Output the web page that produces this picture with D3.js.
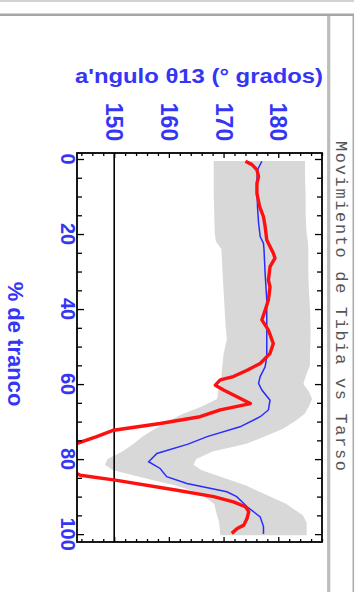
<!DOCTYPE html>
<html><head><meta charset="utf-8">
<script src="https://cdn.jsdelivr.net/npm/d3@7/dist/d3.min.js"></script>
<style>html,body{margin:0;padding:0;background:#fff;}svg{display:block;}</style>
</head><body>
<svg id="c" width="360" height="592"></svg>
<script>
// ---- data ----
const titleText = "Movimiento de Tibia vs Tarso";
const angleTitle = "a'ngulo \u03B813 (\u00B0 grados)";
const pctTitle = "% de tranco";
const angleTicks = [150, 160, 170, 180];
const pctTicks = [0, 20, 40, 60, 80, 100];

const bandPct  = [0.5,5,10,15,20,22,24,30,35,40,45,48,52,55,58,60,62,64,66,68,70,72,74,76,78,80,81.5,83,85,87,89,92,95,97,100.3];
const bandLow  = [168.2,168.2,168.2,168.3,168.4,168.6,169.6,169.8,170.0,170.2,170.4,170.6,170.0,169.8,169.6,169.4,169.0,168.8,166.0,162.5,159.8,157.4,155.2,153.5,151.5,148.8,148.3,149.8,155.3,161.0,165.5,168.3,168.8,169.2,169.4];
const bandHigh = [184.9,184.9,185.0,185.0,185.2,185.4,185.5,185.5,185.6,185.8,185.9,185.9,185.8,185.8,185.0,184.6,185.6,186.2,185.6,184.8,183.0,180.8,177.5,174.0,168.0,165.0,164.5,166.0,170.0,174.0,177.0,181.5,184.5,185.2,185.2];

const bluePct = [0.6,2.9,5.9,12.7,17,20.7,22.5,24.3,30.5,37.6,43.8,52.7,55.4,58,59.8,61.6,64.3,66.9,68.7,71.4,74,76,78.5,80.7,82.5,84.7,86.5,88.7,90,92.7,95.4,98,100];
const blueVal = [177.0,176.2,176.1,176.2,176.4,176.7,177.3,177.4,177.6,177.9,177.9,177.9,177.6,176.7,176.4,177.0,178.5,178.2,176.7,173.0,167.0,163.5,157.8,156.3,158.4,159.6,163.3,170.6,172.4,174.3,176.7,177.3,177.3];

const redPct = [0.6,1.5,2.9,4.7,6.5,9.2,12.7,15.4,18,21.6,25.1,26.4,28.7,32.3,34.1,37.6,40.3,42.9,45.6,49.2,51.8,54.5,56.3,58,58.9,60.3,61.6,65.2,66.9,68.7,70.5,72.3,74,76,80,84.3,85.6,88.3,90,91.4,92.7,94,95.8,97.6,98.5,99.8];
const redVal = [174.0,175.2,176.1,176.4,176.1,176.1,176.6,177.3,177.6,177.9,179.1,179.4,178.5,178.2,178.5,178.2,177.6,177.0,178.2,179.1,178.5,176.7,174.3,171.8,169.4,168.5,170.0,174.9,169.4,165.7,158.4,149.9,146.8,142.8,138.0,143.8,150.2,161.5,168.2,171.8,174.0,174.6,174.3,173.7,172.5,171.5];

const refAngle = 150;

// ---- layout ----
const L = 77, R = 322, T = 153, B = 542;
const blue = "#3535f5";
const svg = d3.select("#c");

const x = d3.scaleLinear().domain([143.2, 188]).range([L, R]);   // angle -> horizontal
const y = d3.scaleLinear().domain([-1.6, 102.1]).range([T, B]);  // % stride -> vertical

// outer grey window lines
svg.append("line").attr("x1",0).attr("x2",354).attr("y1",1).attr("y2",1).attr("stroke","#c4c4c4").attr("stroke-width",1.6);
svg.append("line").attr("x1",0).attr("x2",354).attr("y1",14.8).attr("y2",14.8).attr("stroke","#a6a6a6").attr("stroke-width",2.6);
svg.append("line").attr("x1",328.7).attr("x2",328.7).attr("y1",16).attr("y2",592).attr("stroke","#bcbcbc").attr("stroke-width",3.2);
svg.append("line").attr("x1",353.3).attr("x2",353.3).attr("y1",14).attr("y2",592).attr("stroke","#a8a8a8").attr("stroke-width",1.5);

svg.append("clipPath").attr("id","clip").append("rect").attr("x",L).attr("y",T).attr("width",R-L).attr("height",B-T);
const g = svg.append("g").attr("clip-path","url(#clip)");

// band
const bandData = bandPct.map((p,i)=>({p, lo: bandLow[i], hi: bandHigh[i]}));
g.append("path").datum(bandData)
  .attr("d", d3.area().y(d=>y(d.p)).x0(d=>x(d.lo)).x1(d=>x(d.hi)).curve(d3.curveLinear))
  .attr("fill","#d8d8d8");

// reference line
g.append("line").attr("x1",x(refAngle)).attr("x2",x(refAngle)).attr("y1",T).attr("y2",B)
  .attr("stroke","#000").attr("stroke-width",1.6);

// blue mean
g.append("path").datum(bluePct.map((p,i)=>({p,v:blueVal[i]})))
  .attr("d", d3.line().y(d=>y(d.p)).x(d=>x(d.v)))
  .attr("fill","none").attr("stroke","#2b2bff").attr("stroke-width",1.5);

// red
g.append("path").datum(redPct.map((p,i)=>({p,v:redVal[i]})))
  .attr("d", d3.line().y(d=>y(d.p)).x(d=>x(d.v)))
  .attr("fill","none").attr("stroke","#ff1010").attr("stroke-width",3.4).attr("stroke-linejoin","round");

// ticks via axes (inward)
const angMinor = d3.range(144, 189, 2).filter(v=>v%10!==0);
const pctMinor = d3.range(0, 101, 5).filter(v=>v%20!==0);
function tickAxis(axis, tr){
  const a = svg.append("g").attr("transform",tr).call(axis);
  a.select(".domain").remove();
  a.selectAll("line").attr("stroke","#000").attr("stroke-width",1.3);
  a.selectAll("text").remove();
}
tickAxis(d3.axisTop(x).tickValues(angleTicks).tickSize(-5), `translate(0,${T})`);
tickAxis(d3.axisTop(x).tickValues(angMinor).tickSize(-3), `translate(0,${T})`);
tickAxis(d3.axisBottom(x).tickValues(angleTicks).tickSize(-5), `translate(0,${B})`);
tickAxis(d3.axisBottom(x).tickValues(angMinor).tickSize(-3), `translate(0,${B})`);
tickAxis(d3.axisLeft(y).tickValues(pctTicks).tickSize(-7), `translate(${L},0)`);
tickAxis(d3.axisLeft(y).tickValues(pctMinor).tickSize(-5), `translate(${L},0)`);
tickAxis(d3.axisRight(y).tickValues(pctTicks).tickSize(-7), `translate(${R},0)`);
tickAxis(d3.axisRight(y).tickValues(pctMinor).tickSize(-5), `translate(${R},0)`);

// frame
svg.append("rect").attr("x",L).attr("y",T).attr("width",R-L).attr("height",B-T)
  .attr("fill","none").attr("stroke","#000").attr("stroke-width",1.8);

// tick labels (rotated)
const font = "'Liberation Sans', Arial, sans-serif";
svg.selectAll(".al").data(angleTicks).enter().append("text")
  .attr("transform", d=>`translate(${x(d)},122) rotate(90)`)
  .attr("text-anchor","middle").attr("dominant-baseline","central")
  .attr("font-family",font).attr("font-weight","bold").attr("font-size",23)
  .attr("fill",blue).text(d=>d);
svg.selectAll(".pl").data(pctTicks).enter().append("text")
  .attr("transform", d=>`translate(68,${y(d)}) rotate(90)`)
  .attr("text-anchor","middle").attr("dominant-baseline","central")
  .attr("font-family",font).attr("font-weight","bold").attr("font-size",20)
  .attr("fill",blue).text(d=>d);

// axis titles
svg.append("text").attr("x",199).attr("y",83).attr("text-anchor","middle")
  .attr("font-family",font).attr("font-weight","bold").attr("font-size",20)
  .attr("textLength",248).attr("lengthAdjust","spacingAndGlyphs")
  .attr("fill",blue).text(angleTitle);
svg.append("text").attr("transform","translate(15,344) rotate(90)")
  .attr("text-anchor","middle").attr("dominant-baseline","central")
  .attr("font-family",font).attr("font-weight","bold").attr("font-size",22)
  .attr("fill",blue).text(pctTitle);

// chart title (monospace, rotated)
svg.append("text").attr("transform","translate(340,306) rotate(90)")
  .attr("text-anchor","middle").attr("dominant-baseline","central")
  .attr("font-family","'Liberation Mono','Courier New',monospace").attr("font-size",17)
  .attr("textLength",330).attr("lengthAdjust","spacing")
  .attr("fill","#555").text(titleText);
</script>
</body></html>
